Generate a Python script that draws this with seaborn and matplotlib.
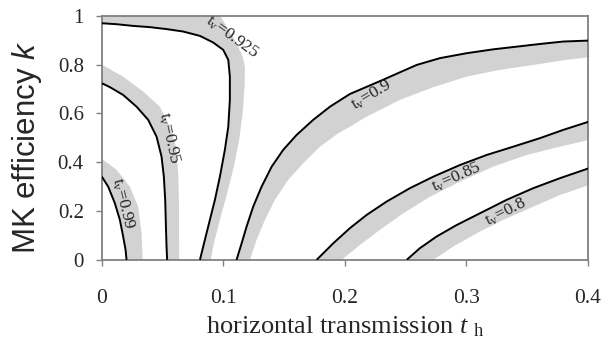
import numpy as np
import pandas as pd
import matplotlib
matplotlib.use("Agg")
import matplotlib.pyplot as plt
import seaborn as sns

# ---- data ----
# black contour line (x = t_h, k) and outer edge of its grey band
c099_x = [0, 0.0052, 0.0107, 0.0148, 0.0175, 0.0195, 0.0203]
c099_k = [0.341, 0.300, 0.232, 0.164, 0.096, 0.041, 0]
c099_bx = [0, 0.0121, 0.023, 0.0299, 0.0327, 0.0335]
c099_bk = [0.414, 0.369, 0.300, 0.218, 0.109, 0]

c095_x = [0, 0.0066, 0.0175, 0.0285, 0.0381, 0.045, 0.0491, 0.051, 0.0521, 0.0527, 0.0532, 0.0537]
c095_k = [0.724, 0.708, 0.676, 0.628, 0.574, 0.505, 0.423, 0.341, 0.246, 0.137, 0.055, 0]
c095_bx = [0, 0.0175, 0.034, 0.0477, 0.056, 0.0609, 0.0628, 0.0634, 0.0636]
c095_bk = [0.80, 0.751, 0.690, 0.628, 0.546, 0.464, 0.355, 0.246, 0]

c0925_x = [0, 0.0121, 0.0258, 0.0395, 0.0532, 0.0669, 0.0807, 0.0916, 0.0998, 0.104,
           0.1053, 0.1053, 0.104, 0.1012, 0.0971, 0.093, 0.0875, 0.0834, 0.0807]
c0925_k = [0.970, 0.966, 0.959, 0.954, 0.946, 0.936, 0.918, 0.891, 0.861, 0.820,
           0.751, 0.656, 0.546, 0.451, 0.341, 0.246, 0.137, 0.055, 0]
c0925_bx = [0, 0.095, 0.1108, 0.1158, 0.1177, 0.1174, 0.1158, 0.113, 0.1086, 0.1031,
            0.0971, 0.0922, 0.0895]
c0925_bk = [1.02, 1.02, 0.888, 0.833, 0.792, 0.710, 0.601, 0.492, 0.382, 0.273,
            0.164, 0.068, 0]

c090_x = [0.1108, 0.115, 0.1191, 0.1245, 0.1314, 0.1397, 0.1492, 0.1602, 0.1739, 0.1877,
          0.2041, 0.2313, 0.2453, 0.259, 0.2782, 0.300, 0.322, 0.3413, 0.3605, 0.3797, 0.401]
c090_k = [0, 0.068, 0.137, 0.218, 0.300, 0.382, 0.451, 0.512, 0.574, 0.628,
          0.680, 0.738, 0.769, 0.799, 0.827, 0.847, 0.863, 0.874, 0.885, 0.895, 0.899]
c090_bx = [0.1218, 0.1273, 0.1342, 0.1424, 0.1533, 0.1657, 0.1794, 0.1945, 0.2041, 0.2178,
           0.2453, 0.2727, 0.300, 0.3276, 0.355, 0.3824, 0.401]
c090_bk = [0, 0.082, 0.164, 0.246, 0.328, 0.396, 0.464, 0.519, 0.546, 0.587,
           0.656, 0.708, 0.751, 0.779, 0.799, 0.820, 0.831]

c085_x = [0.1767, 0.1904, 0.2041, 0.2178, 0.2343, 0.2535, 0.2727, 0.2947, 0.3166, 0.3385,
          0.3605, 0.3797, 0.401]
c085_k = [0, 0.068, 0.130, 0.184, 0.239, 0.294, 0.341, 0.389, 0.430, 0.464,
          0.499, 0.533, 0.567]
c085_bx = [0.1973, 0.2123, 0.2288, 0.248, 0.27, 0.2947, 0.322, 0.3495, 0.377, 0.401]
c085_bk = [0, 0.061, 0.123, 0.191, 0.259, 0.321, 0.382, 0.430, 0.464, 0.492]

c080_x = [0.2508, 0.2617, 0.2755, 0.292, 0.3111, 0.333, 0.355, 0.377, 0.401]
c080_k = [0, 0.048, 0.096, 0.143, 0.191, 0.246, 0.294, 0.335, 0.376]
c080_bx = [0.2727, 0.2892, 0.3084, 0.3303, 0.355, 0.377, 0.401]
c080_bk = [0, 0.055, 0.109, 0.164, 0.218, 0.266, 0.307]

# label values and placements
tv_labels = ["0.99", "0.95", "0.925", "0.9", "0.85", "0.8"]
label_x = [0.017, 0.055, 0.107, 0.222, 0.292, 0.332]
label_k = [0.23, 0.50, 0.912, 0.676, 0.34, 0.197]
label_rot = [-76, -78, -36, 31, 24, 27]

x_ticks = [0, 0.1, 0.2, 0.3, 0.4]
x_ticklabels = ["0", "0.1", "0.2", "0.3", "0.4"]
y_ticks = [0, 0.2, 0.4, 0.6, 0.8, 1.0]
y_ticklabels = ["0", "0.2", "0.4", "0.6", "0.8", "1"]

# ---- style ----
sns.set_theme(style="white")
plt.rcParams["font.family"] = ["Liberation Serif", "DejaVu Serif"]
plt.rcParams["mathtext.fontset"] = "custom"
plt.rcParams["mathtext.rm"] = "Liberation Serif"
plt.rcParams["mathtext.it"] = "Liberation Serif:italic"
plt.rcParams["mathtext.bf"] = "Liberation Sans:italic"

fig = plt.figure(figsize=(6.10, 3.46), dpi=100)
ax = fig.add_axes([0.167, 0.249, 0.797, 0.705])

band_color = "#d2d2d2"
curves = [
    (c099_x, c099_k, c099_bx, c099_bk),
    (c095_x, c095_k, c095_bx, c095_bk),
    (c0925_x, c0925_k, c0925_bx, c0925_bk),
    (c090_x, c090_k, c090_bx, c090_bk),
    (c085_x, c085_k, c085_bx, c085_bk),
    (c080_x, c080_k, c080_bx, c080_bk),
]

for cx, ck, bx, bk in curves:
    px = list(cx) + list(bx)[::-1]
    pk = list(ck) + list(bk)[::-1]
    ax.fill(px, pk, color=band_color, lw=0, zorder=1)

for cx, ck, bx, bk in curves:
    df = pd.DataFrame({"t_h": cx, "k": ck})
    sns.lineplot(data=df, x="t_h", y="k", sort=False, estimator=None,
                 color="black", lw=1.4, ax=ax, zorder=3,
                 solid_joinstyle="round", solid_capstyle="butt")

for lab, lx, lk, rot in zip(tv_labels, label_x, label_k, label_rot):
    ax.text(lx, lk, r"$\mathrm{t_v}$=" + lab, ha="center", va="center",
            rotation=rot, rotation_mode="anchor", fontsize=12.5, zorder=4)

ax.set_xlim(0, 0.4)
ax.set_ylim(0, 1)
ax.set_xticks(x_ticks)
ax.set_xticklabels(x_ticklabels)
ax.set_yticks(y_ticks)
ax.set_yticklabels(y_ticklabels)

for s in ax.spines.values():
    s.set_color("#808080")
    s.set_linewidth(1.3)
    s.set_visible(True)

ax.tick_params(axis="x", direction="out", length=4, width=1, color="#808080",
               labelsize=15.5, pad=17, bottom=True)
ax.tick_params(axis="y", direction="out", length=4, width=1, color="#808080",
               labelsize=15, pad=9, left=True)

ax.set_xlabel(r"horizontal transmission $\mathit{t}\ _{\mathrm{h}}$", fontsize=19)
ax.xaxis.set_label_coords(0.5, -0.222)
ax.set_ylabel(r"MK efficiency $\mathbf{k}$", fontsize=22.5,
              fontfamily="Liberation Sans")
ax.yaxis.set_label_coords(-0.120, 0.463)

fig.savefig("out.png", dpi=100)
